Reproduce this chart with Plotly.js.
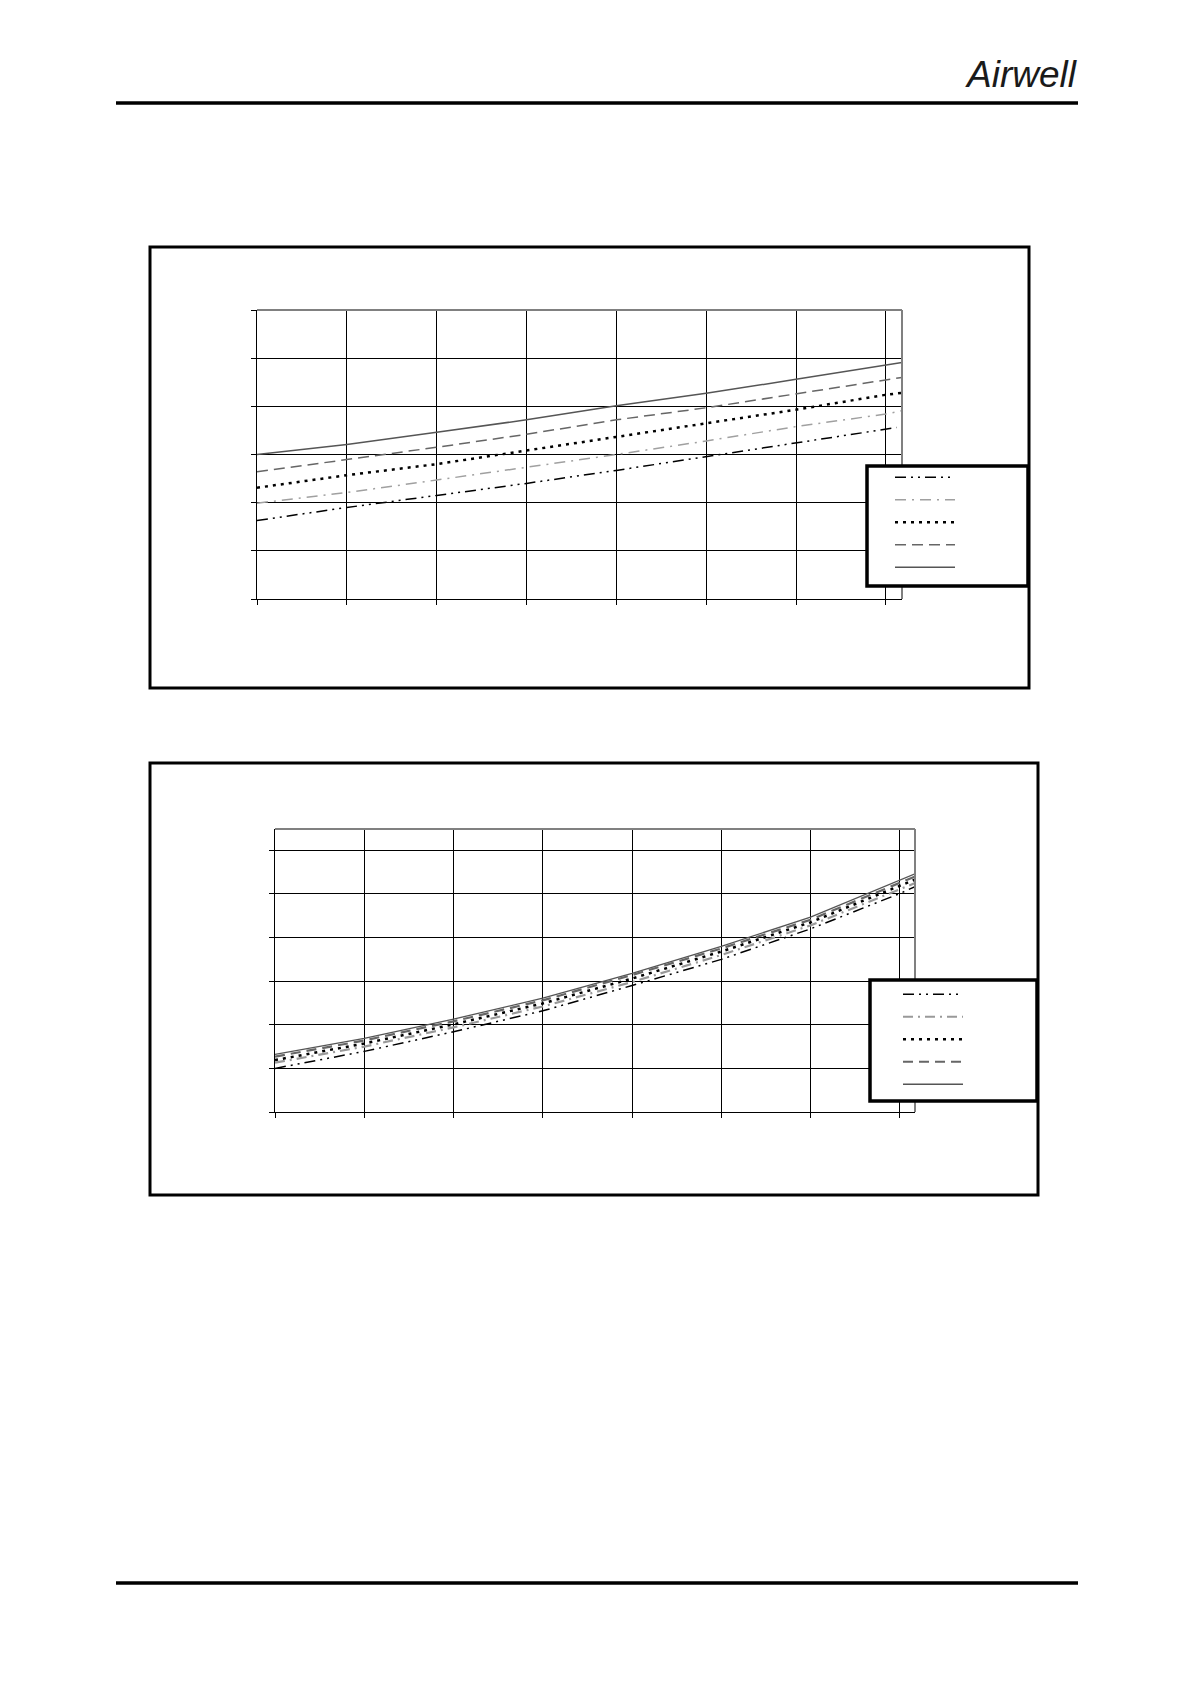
<!DOCTYPE html>
<html>
<head>
<meta charset="utf-8">
<script src="https://cdn.plot.ly/plotly-3.0.1.min.js"></script>
<style>
  html, body { margin: 0; padding: 0; background: #fff; }
  #chart { width: 1190px; height: 1684px; }
</style>
</head>
<body>
<div id="chart"></div>
<script>
// ---------- data (axis units = gridline steps) ----------
// Chart 1
const c1X      = [0, 1, 2, 3, 4, 5, 6, 7, 7.18];
const c1XShort = [0, 1, 2, 3, 4, 5, 6, 7, 7.12];
const c1DashDotDot = [1.63, 1.90, 2.15, 2.40, 2.67, 2.96, 3.25, 3.53, 3.56];
const c1DashDot    = [1.99, 2.21, 2.47, 2.73, 3.00, 3.28, 3.58, 3.84, 3.91];
const c1Dotted     = [2.31, 2.57, 2.80, 3.08, 3.37, 3.65, 3.93, 4.24, 4.28];
const c1Dashed     = [2.64, 2.89, 3.15, 3.42, 3.72, 3.97, 4.26, 4.55, 4.60];
const c1Solid      = [3.00, 3.21, 3.46, 3.72, 4.01, 4.27, 4.56, 4.86, 4.91];

// Chart 2
const c2X = [0, 1, 2, 3, 4, 5, 6, 7, 7.17];
const c2DashDotDot = [1.00, 1.39, 1.84, 2.32, 2.90, 3.50, 4.20, 5.01, 5.17];
const c2DashDot    = [1.13, 1.50, 1.94, 2.42, 2.98, 3.60, 4.28, 5.10, 5.25];
const c2Dotted     = [1.19, 1.57, 2.01, 2.49, 3.06, 3.68, 4.35, 5.18, 5.33];
const c2Dashed     = [1.27, 1.64, 2.08, 2.56, 3.14, 3.75, 4.41, 5.25, 5.40];
const c2Solid      = [1.32, 1.69, 2.13, 2.61, 3.18, 3.80, 4.47, 5.32, 5.46];

const legendNames = [' ', ' ', ' ', ' ', ' '];

// ---------- layout helpers (page pixels -> paper fractions) ----------
const W = 1190, H = 1684;
const px = v => v / W;
const py = v => 1 - v / H;

const styles1 = [
  {color: '#000000', width: 1.5, dash: '11px,5px,2px,5px,2px,5px'},
  {color: '#a0a0a0', width: 1.5, dash: '11px,6px,2px,6px'},
  {color: '#000000', width: 2.5, dash: '3px,5px'},
  {color: '#666666', width: 1.5, dash: '11px,6px'},
  {color: '#555555', width: 1.5, dash: 'solid'}
];
const styles2 = [
  {color: '#000000', width: 1.5, dash: '11px,5px,2px,5px,2px,5px'},
  {color: '#999999', width: 2.2, dash: '10px,5px,2px,5px'},
  {color: '#000000', width: 2.5, dash: '3px,5px'},
  {color: '#666666', width: 2.2, dash: '10px,6px'},
  {color: '#555555', width: 1.3, dash: 'solid'}
];

const c1Series = [[c1XShort, c1DashDotDot], [c1X, c1DashDot], [c1X, c1Dotted], [c1X, c1Dashed], [c1X, c1Solid]];
const c2Series = [[c2X, c2DashDotDot], [c2X, c2DashDot], [c2X, c2Dotted], [c2X, c2Dashed], [c2X, c2Solid]];

const traces = [];
c1Series.forEach((s, i) => traces.push({
  type: 'scatter', mode: 'lines', x: s[0], y: s[1], name: legendNames[i],
  line: styles1[i], xaxis: 'x', yaxis: 'y', legend: 'legend', hoverinfo: 'skip'
}));
c2Series.forEach((s, i) => traces.push({
  type: 'scatter', mode: 'lines', x: s[0], y: s[1], name: legendNames[i],
  line: styles2[i], xaxis: 'x2', yaxis: 'y2', legend: 'legend2', hoverinfo: 'skip'
}));

function axisBase(extra) {
  return Object.assign({
    showgrid: true, gridcolor: '#000000', gridwidth: 1,
    zeroline: false, showline: true, linecolor: '#000000', linewidth: 1,
    ticks: 'outside', ticklen: 5, tickcolor: '#000000', tickwidth: 1,
    showticklabels: false, dtick: 1, tick0: 0, fixedrange: true
  }, extra);
}

const black = '#000000';
const shapes = [
  // header / footer rules
  {type: 'line', xref: 'paper', yref: 'paper', x0: px(116), x1: px(1078), y0: py(103), y1: py(103), line: {color: black, width: 3.5}},
  {type: 'line', xref: 'paper', yref: 'paper', x0: px(116), x1: px(1078), y0: py(1583), y1: py(1583), line: {color: black, width: 3.5}},
  // chart frames
  {type: 'rect', xref: 'paper', yref: 'paper', x0: px(150), x1: px(1029), y0: py(247), y1: py(688), line: {color: black, width: 3}, layer: 'below'},
  {type: 'rect', xref: 'paper', yref: 'paper', x0: px(150), x1: px(1038), y0: py(763), y1: py(1195), line: {color: black, width: 3}, layer: 'below'},
  // plot-area top/right border (grey)
  {type: 'line', xref: 'x domain', yref: 'y domain', x0: 0, x1: 1, y0: 1, y1: 1, line: {color: '#808080', width: 2}},
  {type: 'line', xref: 'x domain', yref: 'y domain', x0: 1, x1: 1, y0: 0, y1: 1, line: {color: '#808080', width: 2}},
  {type: 'line', xref: 'x2 domain', yref: 'y2 domain', x0: 0, x1: 1, y0: 1, y1: 1, line: {color: '#808080', width: 2}},
  {type: 'line', xref: 'x2 domain', yref: 'y2 domain', x0: 1, x1: 1, y0: 0, y1: 1, line: {color: '#808080', width: 2}},
  // legend boxes
  {type: 'rect', xref: 'paper', yref: 'paper', x0: px(867), x1: px(1028), y0: py(466), y1: py(586), line: {color: black, width: 3.5}, fillcolor: '#ffffff'},
  {type: 'rect', xref: 'paper', yref: 'paper', x0: px(870), x1: px(1037), y0: py(980), y1: py(1101), line: {color: black, width: 3.5}, fillcolor: '#ffffff'}
];

const layout = {
  width: W, height: H,
  margin: {l: 0, r: 0, t: 0, b: 0},
  paper_bgcolor: '#ffffff', plot_bgcolor: 'rgba(0,0,0,0)',
  showlegend: true,
  xaxis:  axisBase({domain: [px(257), px(902)], range: [0, 7.18], anchor: 'y'}),
  yaxis:  axisBase({domain: [py(599), py(310)], range: [0, 6], anchor: 'x'}),
  xaxis2: axisBase({domain: [px(275), px(915)], range: [0, 7.17], anchor: 'y2'}),
  yaxis2: axisBase({domain: [py(1112), py(829)], range: [0, 6.49], anchor: 'x2'}),
  legend: {
    x: px(890), y: py(461), xanchor: 'left', yanchor: 'top',
    bgcolor: 'rgba(0,0,0,0)', borderwidth: 0, itemwidth: 70,
    font: {family: 'Liberation Sans', size: 15, color: black},
    traceorder: 'normal'
  },
  legend2: {
    x: px(898), y: py(978), xanchor: 'left', yanchor: 'top',
    bgcolor: 'rgba(0,0,0,0)', borderwidth: 0, itemwidth: 70,
    font: {family: 'Liberation Sans', size: 15, color: black},
    traceorder: 'normal'
  },
  shapes: shapes,
  annotations: [{
    xref: 'paper', yref: 'paper', x: px(1080), y: py(75),
    xanchor: 'right', yanchor: 'middle', showarrow: false,
    text: '<i>Airwell</i>',
    font: {family: 'Liberation Sans', size: 37, color: '#1a1a1a'}
  }]
};

function stretchLegendLines() {
  document.querySelectorAll('g.legendlines path').forEach(p => p.setAttribute('d', 'M5,0h60'));
  // make sure the legend clip region does not cut the longer symbols
  document.querySelectorAll('g.legend, g.legend2').forEach(g => {
    g.querySelectorAll('[clip-path]').forEach(el => el.removeAttribute('clip-path'));
  });
}

const gd = document.getElementById('chart');
Plotly.newPlot(gd, traces, layout, {displayModeBar: false, staticPlot: true}).then(() => {
  stretchLegendLines();
  gd.on && gd.on('plotly_afterplot', stretchLegendLines);
  setTimeout(stretchLegendLines, 0);
  setTimeout(stretchLegendLines, 100);
});
</script>
</body>
</html>
